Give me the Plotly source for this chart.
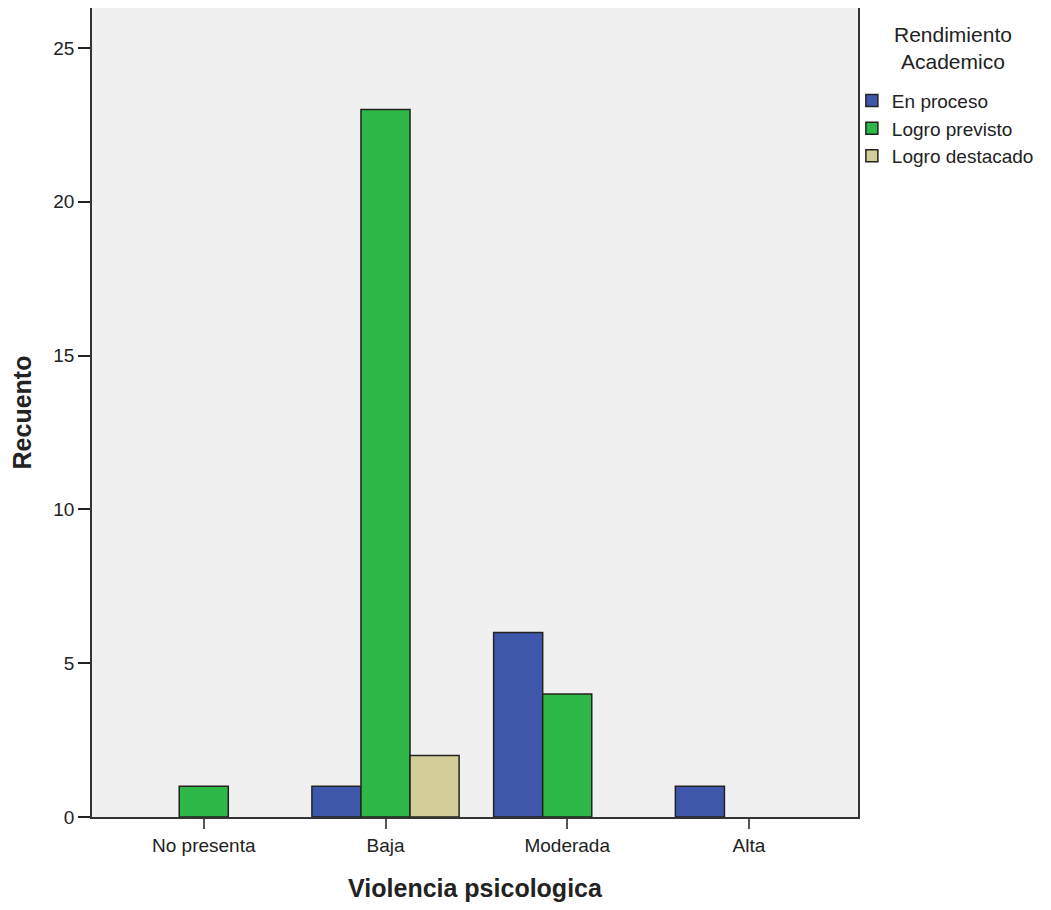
import plotly.graph_objects as go

categories = ["No presenta", "Baja", "Moderada", "Alta"]
en_proceso = [0, 1, 6, 1]
logro_previsto = [1, 23, 4, 0]
logro_destacado = [0, 2, 0, 0]
y_ticks = [0, 5, 10, 15, 20, 25]
legend_title = "Rendimiento<br>Academico"

series = [
    ("En proceso", en_proceso, "#3E57AB"),
    ("Logro previsto", logro_previsto, "#2EB848"),
    ("Logro destacado", logro_destacado, "#D3CE97"),
]

fig = go.Figure()
for name, vals, color in series:
    fig.add_trace(go.Bar(
        x=categories,
        y=[v if v != 0 else None for v in vals],  # zero counts draw no bar
        name=name,
        marker=dict(color=color, line=dict(color="#222222", width=1.5)),
    ))

font = "Liberation Sans, Arial, sans-serif"
fig.update_layout(
    width=1043, height=902,
    margin=dict(l=84, r=193, t=0, b=93, autoexpand=False),
    paper_bgcolor="white",
    plot_bgcolor="#F0F0F0",
    barmode="group",
    bargap=0.19,
    bargroupgap=0,
    font=dict(family=font, size=19, color="#222222"),
    xaxis=dict(
        type="category",
        range=[-0.615, 3.6],
        showline=True, linecolor="#333333", linewidth=1.5, mirror=True,
        ticks="outside", ticklen=10, tickcolor="#555555", tickwidth=2,
        showgrid=False, zeroline=False,
        tickfont=dict(size=19, color="#222222"),
        title=dict(text="<b>Violencia psicologica</b>", font=dict(size=25, color="#222222"), standoff=25),
    ),
    yaxis=dict(
        range=[0, 26.3],
        tickvals=y_ticks,
        showline=True, linecolor="#333333", linewidth=1.5, mirror=True,
        ticks="outside", ticklen=12, tickcolor="#222222", tickwidth=1.5,
        showgrid=False, zeroline=False,
        tickfont=dict(size=19, color="#222222"),
        title=dict(text="<b>Recuento</b>", font=dict(size=25, color="#222222"), standoff=16),
    ),
    legend=dict(
        x=0.992, y=0.909, xanchor="left", yanchor="top",
        font=dict(size=19, color="#222222"),
        itemwidth=30,
        tracegroupgap=0,
        bgcolor="rgba(0,0,0,0)",
    ),
    annotations=[dict(
        text=legend_title, xref="paper", yref="paper",
        x=1.124, y=0.95, xanchor="center", yanchor="middle",
        showarrow=False, align="center",
        font=dict(size=21, color="#222222"),
    )],
)

fig.write_html("out.html")
